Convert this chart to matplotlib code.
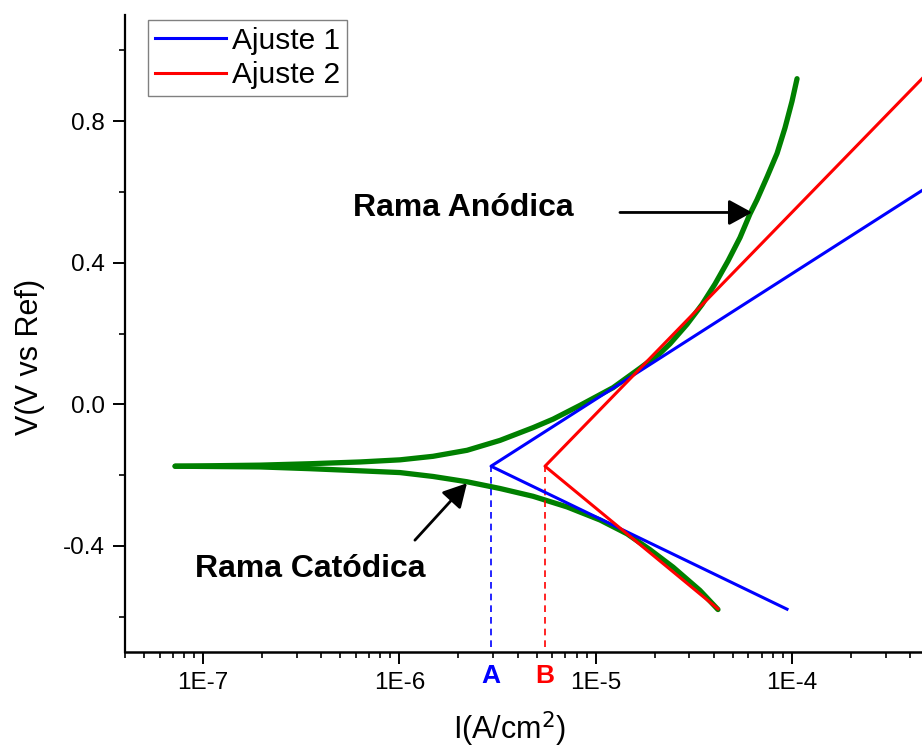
import matplotlib
matplotlib.use("Agg")
import matplotlib.pyplot as plt
from matplotlib.ticker import FixedLocator, FixedFormatter, LogLocator, MultipleLocator, NullFormatter

plt.rcParams["font.family"] = ["Liberation Sans", "DejaVu Sans"]

# measured polarization curve (green), anodic and cathodic branches
anodic_i = [7.20e-8, 1.95e-7, 3.51e-7, 6.31e-7, 1.008e-6, 1.485e-6, 2.213e-6, 3.258e-6,
            4.80e-6, 6.07e-6, 8.33e-6, 1.227e-5, 1.683e-5, 2.128e-5, 2.393e-5, 2.921e-5,
            3.483e-5, 4.058e-5, 4.725e-5, 5.438e-5, 6.115e-5, 6.64e-5, 7.466e-5, 8.40e-5,
            9.22e-5, 1.001e-4, 1.062e-4]
anodic_v = [-0.175, -0.172, -0.168, -0.163, -0.157, -0.147, -0.130, -0.102,
            -0.066, -0.042, -0.003, 0.047, 0.102, 0.144, 0.171, 0.226,
            0.282, 0.340, 0.405, 0.471, 0.538, 0.578, 0.642, 0.709,
            0.781, 0.856, 0.920]
cathodic_i = [7.20e-8, 1.95e-7, 3.51e-7, 6.31e-7, 1.008e-6, 1.485e-6, 2.213e-6, 3.258e-6,
              4.80e-6, 7.15e-6, 1.053e-5, 1.445e-5, 1.893e-5, 2.478e-5, 3.40e-5, 4.20e-5]
cathodic_v = [-0.175, -0.177, -0.182, -0.188, -0.193, -0.204, -0.219, -0.238,
              -0.260, -0.290, -0.327, -0.366, -0.411, -0.460, -0.526, -0.580]

# Tafel fits: [cathodic end, vertex (Icorr, Ecorr), anodic end]
fit1_i = [9.44e-5, 2.93e-6, 4.6e-4]
fit1_v = [-0.579, -0.175, 0.604]
fit2_i = [4.20e-5, 5.52e-6, 4.6e-4]
fit2_v = [-0.578, -0.175, 0.920]

x_ticks = [1e-7, 1e-6, 1e-5, 1e-4]
x_labels = ["1E-7", "1E-6", "1E-5", "1E-4"]
y_ticks = [-0.4, 0.0, 0.4, 0.8]
y_labels = ["-0.4", "0.0", "0.4", "0.8"]

GREEN = "#008000"
BLUE = "#0000FF"
RED = "#FF0000"

fig = plt.figure(figsize=(9.22, 7.53), dpi=100)
ax = fig.add_axes([125 / 922, 101 / 753, 797 / 922, 637 / 753])

ax.plot(anodic_i, anodic_v, color=GREEN, lw=3.8, solid_capstyle="round",
        solid_joinstyle="round", zorder=2)
ax.plot(cathodic_i, cathodic_v, color=GREEN, lw=3.8, solid_capstyle="round",
        solid_joinstyle="round", zorder=2)
ax.plot(fit1_i, fit1_v, color=BLUE, lw=2.2, label="Ajuste 1", zorder=3)
ax.plot(fit2_i, fit2_v, color=RED, lw=2.2, label="Ajuste 2", zorder=3)

ylo, yhi = -0.7, 1.1
ax.vlines(fit1_i[1], ylo + 0.015, fit1_v[1], colors=BLUE, linestyles=(0, (4, 3)), lw=1.2)
ax.vlines(fit2_i[1], ylo + 0.015, fit2_v[1], colors=RED, linestyles=(0, (4, 3)), lw=1.2)

ax.set_xscale("log")
ax.set_xlim(4e-8, 4.6e-4)
ax.set_ylim(ylo, yhi)

ax.xaxis.set_major_locator(FixedLocator(x_ticks))
ax.xaxis.set_major_formatter(FixedFormatter(x_labels))
ax.xaxis.set_minor_locator(LogLocator(base=10, subs=range(2, 10)))
ax.xaxis.set_minor_formatter(NullFormatter())
ax.yaxis.set_major_locator(FixedLocator(y_ticks))
ax.yaxis.set_major_formatter(FixedFormatter(y_labels))
ax.yaxis.set_minor_locator(MultipleLocator(0.2))

for s in ("top", "right"):
    ax.spines[s].set_visible(False)
ax.spines["left"].set_linewidth(1.6)
ax.spines["bottom"].set_linewidth(1.8)
ax.tick_params(which="major", direction="out", length=8.5, width=1.4, labelsize=17.5, pad=6)
ax.tick_params(which="minor", direction="out", length=4.2, width=1.2)

ax.set_ylabel("V(V vs Ref)", fontsize=22)
ax.yaxis.set_label_coords(-0.100, 0.463)
ax.set_xlabel("I(A/cm$^2$)", fontsize=22)
ax.xaxis.set_label_coords(0.483, -0.09)

trans = ax.get_xaxis_transform()
ax.text(fit1_i[1], -0.038, "A", color=BLUE, fontsize=19, fontweight="bold",
        ha="center", va="center", transform=trans)
ax.text(fit2_i[1], -0.038, "B", color=RED, fontsize=19, fontweight="bold",
        ha="center", va="center", transform=trans)

ax.text(5.8e-7, 0.556, "Rama Anódica", fontsize=23, fontweight="bold",
        ha="left", va="center")
ax.text(9.1e-8, -0.466, "Rama Catódica", fontsize=23, fontweight="bold",
        ha="left", va="center")
arrow = dict(arrowstyle="-|>,head_length=0.55,head_width=0.3", color="black", lw=2,
             mutation_scale=26, shrinkA=0, shrinkB=0)
ax.annotate("", xy=(6.27e-5, 0.542), xytext=(1.33e-5, 0.542), arrowprops=arrow)
ax.annotate("", xy=(2.21e-6, -0.223), xytext=(1.20e-6, -0.384), arrowprops=arrow)

leg = ax.legend(loc="upper left", bbox_to_anchor=(0.029, 0.992), borderaxespad=0,
                fontsize=21.5, fancybox=False, framealpha=1, edgecolor="#808080",
                handlelength=2.4, handletextpad=0.2, labelspacing=0.22, borderpad=0.22)
leg.get_frame().set_linewidth(1.0)

fig.savefig("out.png", dpi=100)
